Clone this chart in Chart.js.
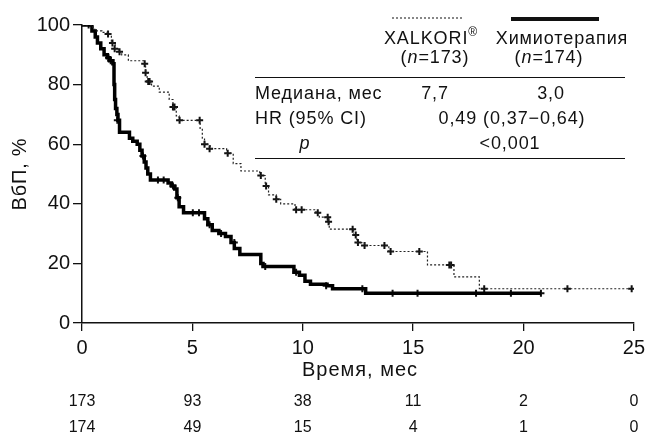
<!DOCTYPE html>
<html>
<head>
<meta charset="utf-8">
<script src="https://cdn.jsdelivr.net/npm/chart.js@4.4.1/dist/chart.umd.min.js"></script>
<style>
  html, body { margin: 0; padding: 0; background: #fff; }
  #wrap { width: 650px; height: 434px; }
</style>
</head>
<body>
<div id="wrap"><canvas id="km" width="650" height="434"></canvas></div>
<script>
// кривые Каплана-Мейера (месяцы, % без прогрессирования)
const xalMonths = [0, 0.5, 0.65, 0.9, 1.2, 1.33, 1.5, 1.65, 1.8, 2.1, 2.8, 2.88, 2.95, 3.15, 3.5, 3.95, 4.12, 4.27, 4.4, 5.35, 5.45, 5.55, 5.8, 6.55, 6.85, 7.2, 8.05, 8.3, 8.45, 8.8, 9.0, 9.65, 10.6, 10.75, 11.15, 11.2, 12.3, 12.45, 12.8, 13.9, 15.65, 16.85, 18.0, 25];
const xalSurv   = [100, 98.5, 98, 97.5, 97, 94, 92, 91, 90, 88, 87, 84, 81, 79.5, 77.5, 75, 72.5, 69.5, 68, 65, 62, 60, 58.5, 57, 53.5, 51, 49.5, 46, 43, 41.5, 40, 38, 37, 35.5, 34, 31.5, 29.5, 27, 26, 24, 19.5, 15.5, 11.5, 11.5];

const chemoMonths = [0, 0.45, 0.6, 0.7, 0.85, 1.0, 1.15, 1.25, 1.4, 1.45, 1.48, 1.52, 1.58, 1.63, 1.7, 2.15, 2.3, 2.5, 2.62, 2.72, 2.82, 2.9, 2.98, 3.1, 3.9, 4.05, 4.2, 4.3, 4.4, 4.6, 5.55, 5.7, 5.9, 6.2, 6.5, 6.75, 6.9, 7.15, 8.1, 8.2, 9.6, 9.85, 10.1, 10.35, 11.1, 11.35, 12.85, 20.8];
const chemoSurv   = [100, 98, 96, 94, 92, 90, 89, 88, 87, 80, 75, 72, 70, 68, 64, 62, 61, 60, 58, 56, 54, 52, 50, 48, 47, 46, 45, 42, 39, 37, 35, 33, 31, 30, 29, 27, 25, 23, 20, 19, 17, 16, 14, 13, 12.5, 11.5, 10, 10];

// цензурированные наблюдения
const xalCensorMonths = [1.18, 1.38, 1.48, 1.7, 2.84, 2.88, 3.0, 3.06, 4.12, 4.19, 4.42, 5.33, 5.55, 5.78, 6.6, 8.1, 8.34, 8.8, 9.7, 9.95, 10.68, 11.13, 11.17, 12.26, 12.4, 12.5, 12.8, 13.7, 13.98, 15.28, 16.64, 16.72, 18.22, 21.99, 24.9];
const xalCensorSurv   = [97, 94, 92, 91, 87, 84, 81, 81, 72.5, 72.5, 68, 68, 60, 58.5, 57, 49.5, 46, 41.5, 38, 38, 37, 35.5, 34, 31.5, 29.5, 27, 26, 26, 24, 24, 19.5, 19.5, 11.5, 11.5, 11.5];
const chemoCensorMonths = [0.3, 1.2, 1.3, 1.6, 2.76, 3.44, 3.7, 4.12, 4.34, 5.02, 5.3, 5.78, 6.3, 6.9, 8.3, 9.7, 11.06, 12.7, 14.07, 15.2, 17.85, 19.43, 20.79];
const chemoCensorSurv   = [100, 89, 88, 68, 56, 48, 48, 46, 42, 37, 37, 33, 30, 27, 19, 17, 12.5, 11.5, 10, 10, 10, 10, 10];

const xTicks = [0, 5, 10, 15, 20, 25];
const atRiskXal = [173, 93, 38, 11, 2, 0];
const atRiskChemo = [174, 49, 15, 4, 1, 0];

const FONT = '"Liberation Sans", Arial, sans-serif';

function pts(xs, ys) {
    return xs.map((x, i) => ({ x, y: ys[i] }));
}

// рисует строку из кусков (обычный/курсив/верхний индекс), выровненную по центру или слева
function richText(ctx, parts, x, y, align) {
    let total = 0;
    parts.forEach(p => {
        ctx.font = (p.italic ? 'italic ' : '') + (p.size || 18) + 'px ' + FONT;
        p.w = ctx.measureText(p.t).width;
        total += p.w;
    });
    let cx = align === 'left' ? x : x - total / 2;
    parts.forEach(p => {
        ctx.font = (p.italic ? 'italic ' : '') + (p.size || 18) + 'px ' + FONT;
        ctx.fillText(p.t, cx, y + (p.dy || 0));
        cx += p.w;
    });
}

const extras = {
    id: 'extras',
    afterDraw(chart) {
        const ctx = chart.ctx;
        const xs = chart.scales.x;
        const area = chart.chartArea;
        ctx.save();
        ctx.fillStyle = '#111';
        ctx.textBaseline = 'middle';
        ctx.textAlign = 'left';

        // подпись оси Y
        ctx.letterSpacing = '0.8px';
        ctx.save();
        ctx.translate(20, (area.top + area.bottom) / 2);
        ctx.rotate(-Math.PI / 2);
        richText(ctx, [{ t: 'ВбП, %', size: 20 }], 0, 0, 'center');
        ctx.restore();

        // подпись оси X
        ctx.letterSpacing = '1px';
        richText(ctx, [{ t: 'Время, мес', size: 20 }], 360, 370, 'center');

        // число пациентов под риском
        ctx.letterSpacing = '0px';
        xTicks.forEach((t, i) => {
            const px = xs.getPixelForValue(t);
            richText(ctx, [{ t: String(atRiskXal[i]), size: 16 }], px, 402, 'center');
            richText(ctx, [{ t: String(atRiskChemo[i]), size: 16 }], px, 428, 'center');
        });

        // легенда-таблица
        ctx.strokeStyle = '#111';
        ctx.lineWidth = 1.2;
        ctx.setLineDash([2, 2]);
        ctx.beginPath(); ctx.moveTo(392, 18); ctx.lineTo(463, 18); ctx.stroke();
        ctx.setLineDash([]);
        ctx.lineWidth = 4;
        ctx.beginPath(); ctx.moveTo(511, 19); ctx.lineTo(599, 19); ctx.stroke();

        ctx.letterSpacing = '0.9px';
        richText(ctx, [{ t: 'XALKORI' }, { t: '®', size: 12, dy: -6 }], 431, 39, 'center');
        richText(ctx, [{ t: '(' }, { t: 'n', italic: true }, { t: '=173)' }], 435, 58, 'center');
        richText(ctx, [{ t: 'Химиотерапия' }], 562, 39, 'center');
        richText(ctx, [{ t: '(' }, { t: 'n', italic: true }, { t: '=174)' }], 549, 58, 'center');

        ctx.lineWidth = 1;
        ctx.beginPath(); ctx.moveTo(255, 77.5); ctx.lineTo(625, 77.5); ctx.stroke();
        ctx.beginPath(); ctx.moveTo(255, 158.5); ctx.lineTo(625, 158.5); ctx.stroke();

        richText(ctx, [{ t: 'Медиана, мес' }], 255, 94, 'left');
        richText(ctx, [{ t: '7,7' }], 435, 94, 'center');
        richText(ctx, [{ t: '3,0' }], 551, 94, 'center');
        richText(ctx, [{ t: 'HR (95% CI)' }], 255, 119, 'left');
        richText(ctx, [{ t: '0,49 (0,37−0,64)' }], 512, 119, 'center');
        richText(ctx, [{ t: 'p', italic: true }], 305, 144, 'center');
        richText(ctx, [{ t: '<0,001' }], 510, 144, 'center');
        ctx.restore();
    }
};

new Chart(document.getElementById('km'), {
    type: 'line',
    data: {
        datasets: [
            {
                label: 'XALKORI',
                data: pts(xalMonths, xalSurv),
                borderColor: '#222',
                borderWidth: 1.2,
                borderDash: [2, 2],
                stepped: 'before',
                pointRadius: 0,
                fill: false
            },
            {
                label: 'Химиотерапия',
                data: pts(chemoMonths, chemoSurv),
                borderColor: '#000',
                borderWidth: 3.5,
                stepped: 'before',
                pointRadius: 0,
                fill: false
            },
            {
                type: 'scatter',
                data: pts(xalCensorMonths, xalCensorSurv),
                pointStyle: 'cross',
                pointRadius: 3.5,
                pointBorderWidth: 2,
                borderColor: '#111',
                showLine: false
            },
            {
                type: 'scatter',
                data: pts(chemoCensorMonths, chemoCensorSurv),
                pointStyle: 'cross',
                pointRadius: 3.5,
                pointBorderWidth: 2,
                borderColor: '#111',
                showLine: false
            }
        ]
    },
    options: {
        responsive: false,
        devicePixelRatio: 1,
        animation: false,
        layout: { padding: { top: 25, right: 15, left: 0, bottom: 0 } },
        plugins: { legend: { display: false }, tooltip: { enabled: false } },
        scales: {
            x: {
                type: 'linear',
                min: 0,
                max: 25,
                afterFit: s => { s.height = 111; },
                afterBuildTicks: s => { s.ticks = xTicks.map(v => ({ value: v })); },
                ticks: { color: '#111', font: { family: FONT, size: 20 }, padding: 5, maxRotation: 0 },
                grid: { drawOnChartArea: false, drawTicks: true, tickLength: 8, color: '#111', lineWidth: 1.3 },
                border: { color: '#111', width: 1.5 }
            },
            y: {
                min: 0,
                max: 100,
                afterFit: s => { s.width = 82; },
                ticks: { stepSize: 20, color: '#111', font: { family: FONT, size: 20 }, padding: 3 },
                grid: { drawOnChartArea: false, drawTicks: true, tickLength: 9, color: '#111', lineWidth: 1.3 },
                border: { color: '#111', width: 1.5 }
            }
        }
    },
    plugins: [extras]
});
</script>
</body>
</html>
